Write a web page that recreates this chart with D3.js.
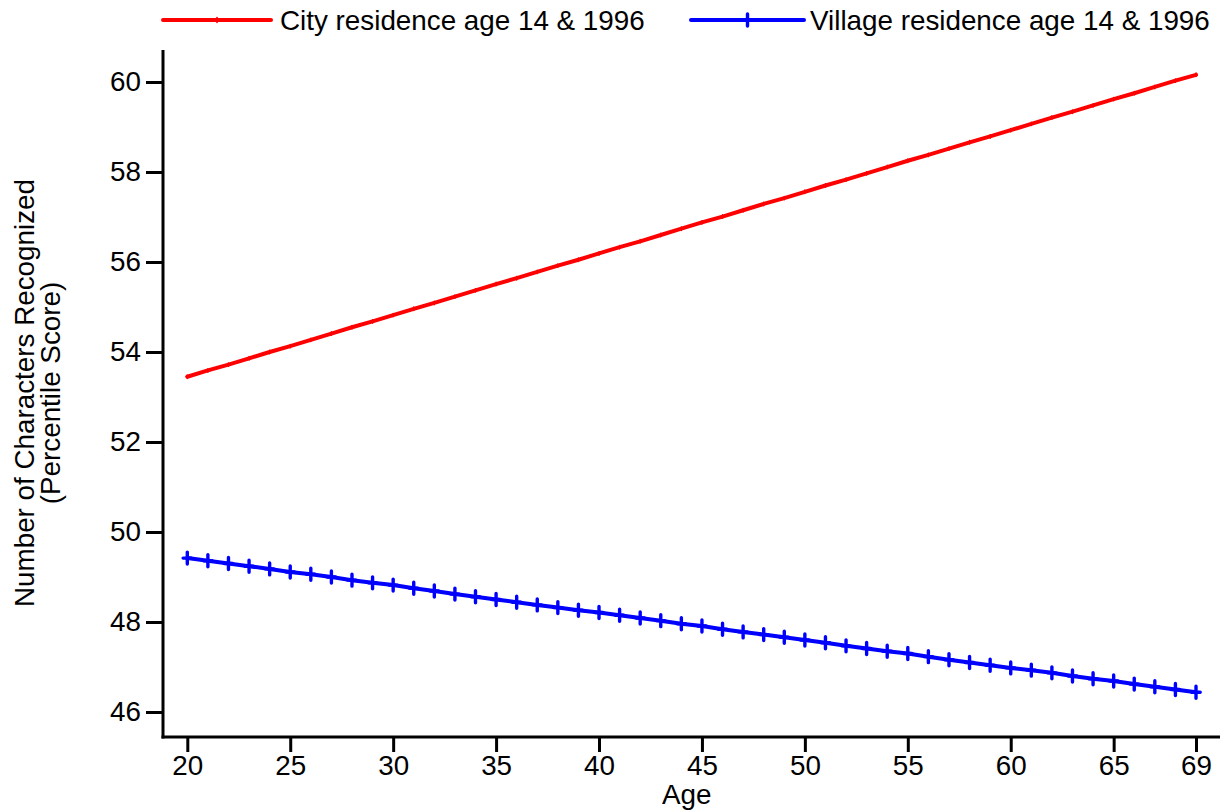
<!DOCTYPE html>
<html>
<head>
<meta charset="utf-8">
<script src="https://cdn.jsdelivr.net/npm/d3@7"></script>
<style>
  html, body { margin: 0; padding: 0; background: #fff; }
  svg { display: block; font-family: "Liberation Sans", Arial, sans-serif; }
</style>
</head>
<body>
<svg id="chart" width="1224" height="811"></svg>
<script>
// Ages on the horizontal axis
const ages = d3.range(20, 70);

// Predicted percentile score, city residence at age 14 and in 1996
const cityScores = [
  53.45, 53.59, 53.72, 53.86, 54.00, 54.13, 54.27, 54.41, 54.55, 54.68,
  54.82, 54.96, 55.09, 55.23, 55.37, 55.51, 55.64, 55.78, 55.92, 56.05,
  56.19, 56.33, 56.46, 56.60, 56.74, 56.88, 57.01, 57.15, 57.29, 57.42,
  57.56, 57.70, 57.83, 57.97, 58.11, 58.25, 58.38, 58.52, 58.66, 58.79,
  58.93, 59.07, 59.21, 59.34, 59.48, 59.62, 59.75, 59.89, 60.03, 60.16
];

// Predicted percentile score, village residence at age 14 and in 1996
const villageScores = [
  49.42, 49.36, 49.30, 49.24, 49.18, 49.11, 49.06, 49.00, 48.93, 48.87,
  48.82, 48.75, 48.69, 48.62, 48.56, 48.50, 48.44, 48.38, 48.32, 48.26,
  48.21, 48.15, 48.09, 48.03, 47.96, 47.91, 47.84, 47.78, 47.72, 47.66,
  47.60, 47.54, 47.47, 47.41, 47.35, 47.30, 47.23, 47.16, 47.10, 47.04,
  46.98, 46.93, 46.87, 46.80, 46.74, 46.69, 46.62, 46.56, 46.50, 46.44
];

const xTicks = [20, 25, 30, 35, 40, 45, 50, 55, 60, 65, 69];
const yTicks = [46, 48, 50, 52, 54, 56, 58, 60];

const seriesNames = ["City residence age 14 & 1996", "Village residence age 14 & 1996"];
const seriesColors = ["#ff0000", "#0000ff"];

const svg = d3.select("#chart");
const FONT = 27.8;

const x = d3.scaleLinear().domain([20, 69]).range([187.3, 1196]);
const y = d3.scaleLinear().domain([46, 60]).range([712, 82]);

const axisLeftX = 163, axisBottomY = 737;

// Y axis
const yAxis = svg.append("g")
  .attr("transform", `translate(${axisLeftX},0)`)
  .call(d3.axisLeft(y).tickValues(yTicks).tickSize(17).tickPadding(5).tickSizeOuter(0));
yAxis.select(".domain").remove();
yAxis.selectAll(".tick line").attr("stroke", "#000").attr("stroke-width", 3);
yAxis.selectAll(".tick text").attr("font-size", FONT).attr("fill", "#000")
  .attr("font-family", "Liberation Sans, Arial, sans-serif");
svg.append("line")
  .attr("x1", axisLeftX).attr("x2", axisLeftX)
  .attr("y1", 50).attr("y2", axisBottomY + 1.5)
  .attr("stroke", "#000").attr("stroke-width", 3);

// X axis
const xAxis = svg.append("g")
  .attr("transform", `translate(0,${axisBottomY})`)
  .call(d3.axisBottom(x).tickValues(xTicks).tickSize(15).tickPadding(3).tickSizeOuter(0));
xAxis.select(".domain").remove();
xAxis.selectAll(".tick line").attr("stroke", "#000").attr("stroke-width", 3);
xAxis.selectAll(".tick text").attr("font-size", FONT).attr("fill", "#000")
  .attr("font-family", "Liberation Sans, Arial, sans-serif");
svg.append("line")
  .attr("x1", axisLeftX - 1.5).attr("x2", 1220)
  .attr("y1", axisBottomY).attr("y2", axisBottomY)
  .attr("stroke", "#000").attr("stroke-width", 3);

// Axis titles
svg.append("text")
  .attr("x", x((20 + 69) / 2) - 5).attr("y", 804)
  .attr("text-anchor", "middle").attr("font-size", FONT)
  .text("Age");

const yTitle = svg.append("text")
  .attr("transform", "translate(0,393) rotate(-90)")
  .attr("text-anchor", "middle").attr("font-size", FONT);
yTitle.append("tspan").attr("x", 0).attr("y", 34).text("Number of Characters Recognized");
yTitle.append("tspan").attr("x", 0).attr("y", 60).text("(Percentile Score)");

// Series lines and markers
const series = [
  { values: cityScores, color: seriesColors[0], marker: 3.5, markerWidth: 1.4 },
  { values: villageScores, color: seriesColors[1], marker: 12, markerWidth: 3.4 }
];

const line = d3.line().x(d => x(d.age)).y(d => y(d.v));

series.forEach(s => {
  const pts = ages.map((a, i) => ({ age: a, v: s.values[i] }));
  svg.append("path")
    .datum(pts)
    .attr("d", line)
    .attr("fill", "none")
    .attr("stroke", s.color)
    .attr("stroke-width", 4)
    .attr("stroke-linecap", "round")
    .attr("stroke-linejoin", "round");
  const h = s.marker / 2;
  svg.append("g").selectAll("path")
    .data(pts)
    .join("path")
    .attr("d", d => {
      const cx = x(d.age), cy = y(d.v);
      return `M${cx},${cy - h}V${cy + h}M${cx - h * 0.7},${cy}H${cx + h * 0.7}`;
    })
    .attr("stroke", s.color)
    .attr("stroke-width", s.markerWidth)
    .attr("stroke-linecap", "round");
});

// Legend
const legendItems = [
  { x1: 163, x2: 271, tx: 280, marker: 5, mw: 1.6 },
  { x1: 691, x2: 804, tx: 810, marker: 12, mw: 3.4 }
];
const legendY = 20;
legendItems.forEach((it, i) => {
  svg.append("line")
    .attr("x1", it.x1).attr("x2", it.x2)
    .attr("y1", legendY).attr("y2", legendY)
    .attr("stroke", seriesColors[i]).attr("stroke-width", 4)
    .attr("stroke-linecap", "round");
  const cx = (it.x1 + it.x2) / 2, h = it.marker / 2;
  svg.append("path")
    .attr("d", `M${cx},${legendY - h}V${legendY + h}`)
    .attr("stroke", seriesColors[i]).attr("stroke-width", it.mw)
    .attr("stroke-linecap", "round");
  svg.append("text")
    .attr("x", it.tx).attr("y", legendY + 10)
    .attr("font-size", FONT)
    .text(seriesNames[i]);
});
</script>
</body>
</html>
